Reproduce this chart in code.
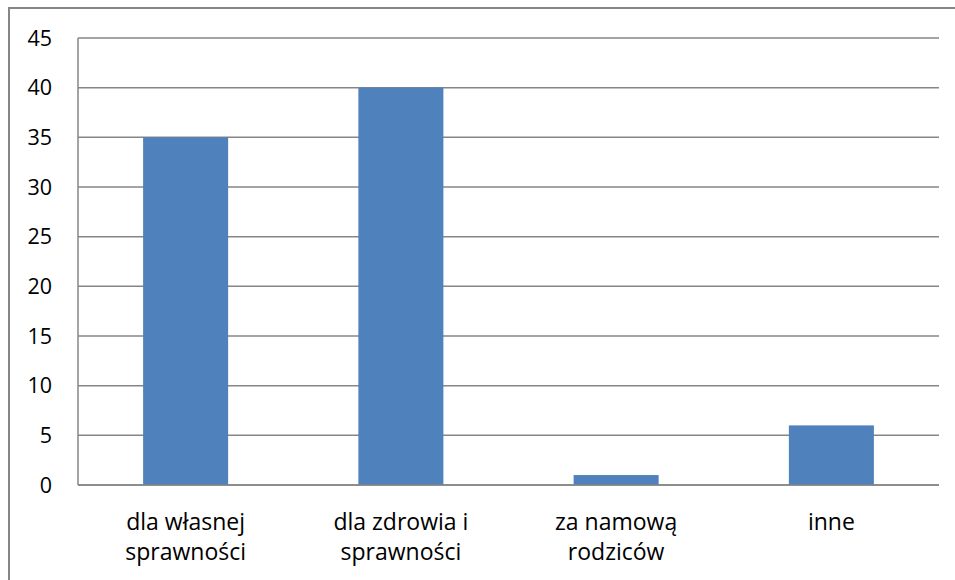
<!DOCTYPE html>
<html>
<head>
<meta charset="utf-8">
<script src="https://cdn.jsdelivr.net/npm/d3@7"></script>
<style>
  body { margin: 0; background: #fff; }
  text { font-family: "Open Sans", "Noto Sans", sans-serif; fill: #000; }
</style>
</head>
<body>
<script>
const width = 955;
const height = 580;

// data
const categories = [["dla własnej", "sprawności"], ["dla zdrowia i", "sprawności"], ["za namową", "rodziców"], ["inne"]];
const values = [35, 40, 1, 6];
const yTicks = [0, 5, 10, 15, 20, 25, 30, 35, 40, 45];

let margin = { top: 38, right: 16, bottom: 95, left: 78 };

let svg = d3
  .select("body")
  .append("svg")
  .attr("width", width)
  .attr("height", height);

// outer chart frame (runs off right and bottom edge)
svg
  .append("rect")
  .attr("x", 9)
  .attr("y", 8)
  .attr("width", 960)
  .attr("height", 600)
  .attr("fill", "none")
  .attr("stroke", "#868686")
  .attr("stroke-width", 2);

let xScale = d3
  .scaleBand()
  .domain(d3.range(categories.length))
  .range([margin.left, width - margin.right])
  .paddingInner(0.605)
  .paddingOuter(0.3025);

let yScale = d3
  .scaleLinear()
  .domain([0, 45])
  .range([height - margin.bottom, margin.top]);

// gridlines
svg
  .append("g")
  .selectAll("line")
  .data(yTicks)
  .join("line")
  .attr("x1", margin.left)
  .attr("x2", width - margin.right)
  .attr("y1", (d) => yScale(d))
  .attr("y2", (d) => yScale(d))
  .attr("stroke", "#868686")
  .attr("stroke-width", 1.5);

// left axis line
svg
  .append("line")
  .attr("x1", margin.left)
  .attr("x2", margin.left)
  .attr("y1", margin.top)
  .attr("y2", yScale(0))
  .attr("stroke", "#868686")
  .attr("stroke-width", 1.5);

// bars
svg
  .append("g")
  .selectAll("rect")
  .data(values)
  .join("rect")
  .attr("x", (d, i) => xScale(i))
  .attr("y", (d) => yScale(d))
  .attr("width", xScale.bandwidth())
  .attr("height", (d) => yScale(0) - yScale(d))
  .attr("fill", "#4f81bd");

// redraw baseline over bars
svg
  .append("line")
  .attr("x1", margin.left)
  .attr("x2", width - margin.right)
  .attr("y1", yScale(0))
  .attr("y2", yScale(0))
  .attr("stroke", "#868686")
  .attr("stroke-width", 1.5);

// y tick labels
svg
  .append("g")
  .selectAll("text")
  .data(yTicks)
  .join("text")
  .attr("x", 52)
  .attr("y", (d) => yScale(d))
  .attr("dy", "0.36em")
  .attr("text-anchor", "end")
  .attr("font-size", 21.5)
  .text((d) => d);

// category labels
let step = xScale.step();
svg
  .append("g")
  .selectAll("text")
  .data(categories)
  .join("text")
  .attr("x", (d, i) => margin.left + step * (i + 0.5))
  .attr("y", 530)
  .attr("text-anchor", "middle")
  .attr("font-size", 23)
  .selectAll("tspan")
  .data((d) => d)
  .join("tspan")
  .attr("x", function () { return this.parentNode.getAttribute("x"); })
  .attr("dy", (d, i) => (i === 0 ? 0 : 30))
  .text((d) => d);
</script>
</body>
</html>
